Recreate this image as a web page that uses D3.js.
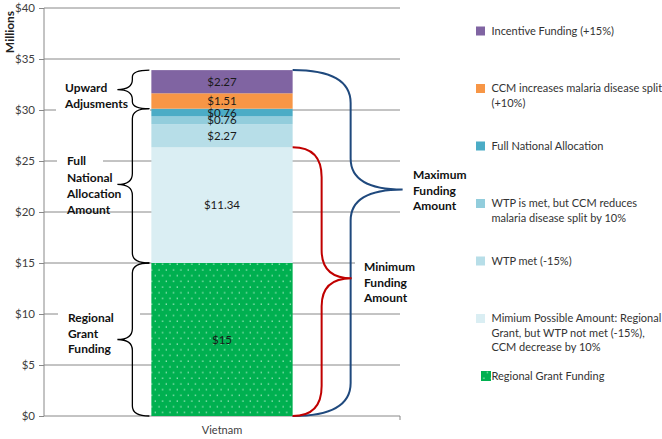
<!DOCTYPE html>
<html>
<head>
<meta charset="utf-8">
<script src="https://cdn.jsdelivr.net/npm/d3@7"></script>
<style>
  html, body { margin: 0; padding: 0; background: #fff; }
  svg { display: block; font-family: Lato, "Open Sans", sans-serif; }
</style>
</head>
<body>
<svg id="chart" width="662" height="439"></svg>
<script>
// ---------------- DATA ----------------
const categories = ["Vietnam"];
const segmentNames = [
  "Regional Grant Funding",
  "Mimium Possible Amount: Regional Grant, but WTP not met (-15%), CCM decrease by 10%",
  "WTP met (-15%)",
  "WTP is met, but CCM reduces malaria disease split by 10%",
  "Full National Allocation",
  "CCM increases malaria disease split (+10%)",
  "Incentive Funding (+15%)"
];
const segmentValues = [15, 11.34, 2.27, 0.76, 0.76, 1.51, 2.27];
const valueLabels = ["$15", "$11.34", "$2.27", "$0.76", "$0.76", "$1.51", "$2.27"];
const legendLines = [
  ["Regional Grant Funding"],
  ["Mimium Possible Amount: Regional", "Grant, but WTP not met (-15%),", "CCM decrease by 10%"],
  ["WTP met (-15%)"],
  ["WTP is met, but CCM reduces", "malaria disease split by 10%"],
  ["Full National Allocation"],
  ["CCM increases malaria disease split", "(+10%)"],
  ["Incentive Funding (+15%)"]
];
const yTickValues = [0, 5, 10, 15, 20, 25, 30, 35, 40];
const yTickLabels = ["$0", "$5", "$10", "$15", "$20", "$25", "$30", "$35", "$40"];
const yTitle = "Millions";
// brace annotations: value range [from, to] and tip value
const leftBraceFrom = [30.13, 15, 0];
const leftBraceTo = [33.91, 30.13, 15];
const leftBraceTip = [32.0, 22.7, 7.5];
const leftBraceText = [["Upward", "Adjusments"], ["Full", "National", "Allocation", "Amount"], ["Regional", "Grant", "Funding"]];
const rightBraceFrom = [0, 0];
const rightBraceTo = [33.91, 26.34];
const rightBraceTip = [22.2, 13.5];
const rightBraceText = [["Maximum", "Funding", "Amount"], ["Minimum", "Funding", "Amount"]];

// ---------------- STYLES ----------------
const segColors = ["#00B050", "#DAEEF3", "#B7DEE8", "#92CDDC", "#4BACC6", "#F79646", "#8064A2"];
const gridColor = "#888888";
const textColor = "#404040";

// ---------------- SETUP ----------------
const svg = d3.select("#chart");
const y = d3.scaleLinear().domain([0, 40]).range([416, 8]);
const x = d3.scaleBand().domain(categories).range([44, 400]).paddingInner(0).paddingOuter(0.76);
const color = d3.scaleOrdinal().domain(segmentNames).range(segColors);

// pattern for regional grant
const defs = svg.append("defs");
const pat = defs.append("pattern").attr("id", "dots").attr("patternUnits", "userSpaceOnUse")
  .attr("width", 7.3).attr("height", 11.4);
pat.append("rect").attr("width", 7.3).attr("height", 11.4).attr("fill", segColors[0]);
pat.append("rect").attr("x", 1.5).attr("y", 1.5).attr("width", 1.1).attr("height", 1.1).attr("fill", "#e8fff0");
pat.append("rect").attr("x", 5.15).attr("y", 7.2).attr("width", 1.1).attr("height", 1.1).attr("fill", "#e8fff0");

// stacked data
let acc = 0;
const stacked = segmentValues.map((v, i) => {
  const d = { name: segmentNames[i], label: valueLabels[i], y0: acc, y1: acc + v, i };
  acc += v; return d;
});

// ---------------- GRID + AXES ----------------
const yAxis = d3.axisLeft(y).tickValues(yTickValues).tickFormat((d, i) => yTickLabels[i]).tickSize(5).tickPadding(4);
const gy = svg.append("g").attr("transform", "translate(44,0)").call(yAxis);
gy.select(".domain").attr("stroke", gridColor).attr("d", `M0,${y(40)}V${y(0)}`);
gy.selectAll(".tick line").attr("stroke", gridColor);
gy.selectAll(".tick text").attr("fill", textColor).style("font-size", "11.5px").style("font-family", "Lato");

svg.append("g").selectAll("line").data(yTickValues.filter(v => v > 0)).join("line")
  .attr("x1", 44).attr("x2", 400).attr("y1", d => y(d)).attr("y2", d => y(d))
  .attr("stroke", gridColor).attr("stroke-width", 1);

// bottom axis
svg.append("line").attr("x1", 44).attr("x2", 400).attr("y1", y(0)).attr("y2", y(0)).attr("stroke", gridColor);
svg.append("line").attr("x1", 400).attr("x2", 400).attr("y1", y(0)).attr("y2", y(0) + 4).attr("stroke", gridColor);
const xAxis = d3.axisBottom(x).tickSize(0).tickPadding(10);
const gx = svg.append("g").attr("transform", `translate(0,${y(0)})`).call(xAxis);
gx.select(".domain").remove();
gx.selectAll(".tick text").attr("fill", textColor).style("font-size", "11px").style("font-family", "Lato");

// y title
svg.append("text").attr("transform", `translate(14,${32}) rotate(-90)`).attr("text-anchor", "middle")
  .attr("fill", "#222").style("font-size", "12px").style("font-weight", "bold").text(yTitle);

// white boxes behind text annotations
const boxes = [[56, 80, 94, 32], [57, 152, 46, 18], [58, 306, 82, 52], [355, 258, 45, 48]];
svg.append("g").selectAll("rect").data(boxes).join("rect")
  .attr("x", d => d[0]).attr("y", d => d[1]).attr("width", d => d[2]).attr("height", d => d[3]).attr("fill", "#fff");

// ---------------- BARS ----------------
const bx = x(categories[0]), bw = x.bandwidth();
svg.append("g").selectAll("rect").data(stacked).join("rect")
  .attr("x", bx).attr("width", bw)
  .attr("y", d => y(d.y1)).attr("height", d => y(d.y0) - y(d.y1))
  .attr("fill", d => d.i === 0 ? "url(#dots)" : color(d.name));

svg.append("g").selectAll("text").data(stacked).join("text")
  .attr("x", bx + bw / 2).attr("y", d => y((d.y0 + d.y1) / 2)).attr("dy", "0.35em")
  .attr("text-anchor", "middle").attr("fill", "#1a1a1a").style("font-size", "11.5px")
  .text(d => d.label);

// ---------------- BRACES ----------------
function brace(x0, xv, xt, y0, ym, y1, rEnd, rTip) {
  return `M${x0},${y0} Q${xv},${y0} ${xv},${y0 + rEnd} L${xv},${ym - rTip} Q${xv},${ym} ${xt},${ym} ` +
         `Q${xv},${ym} ${xv},${ym + rTip} L${xv},${y1 - rEnd} Q${xv},${y1} ${x0},${y1}`;
}
const leftR = [[7, 10], [10, 11], [10, 11]];
leftBraceFrom.forEach((f, i) => {
  svg.append("path")
    .attr("d", brace(bx - 2, bx - 19, bx - 34, y(leftBraceTo[i]), y(leftBraceTip[i]), y(f), leftR[i][0], leftR[i][1]))
    .attr("fill", "none").attr("stroke", "#000").attr("stroke-width", 1.3);
});
const rightGeom = [[58, 110, 33, 31, "#1F497D"], [29, 59, 30, 28, "#C00000"]];
rightBraceFrom.forEach((f, i) => {
  const g = rightGeom[i];
  svg.append("path")
    .attr("d", brace(bx + bw, bx + bw + g[0], bx + bw + g[1], y(rightBraceTo[i]), y(rightBraceTip[i]), y(f), g[2], g[3]))
    .attr("fill", "none").attr("stroke", g[4]).attr("stroke-width", 2);
});

// ---------------- ANNOTATION TEXT ----------------
function multiline(xp, y0, lines, lh, opts) {
  const t = svg.append("text").attr("x", xp).attr("y", y0).attr("fill", opts.fill || "#111")
    .style("font-size", opts.size).style("font-weight", opts.weight || "normal");
  lines.forEach((l, j) => t.append("tspan").attr("x", xp).attr("y", y0 + j * lh).attr("dy", "0.35em").text(l));
}
const leftTextPos = [[65, 88], [67, 161], [68, 318]];
leftBraceText.forEach((lines, i) => multiline(leftTextPos[i][0], leftTextPos[i][1], lines, i === 1 ? 16.3 : 15.5, { size: "12px", weight: "bold" }));
const rightTextPos = [[413, 175], [364, 267]];
rightBraceText.forEach((lines, i) => multiline(rightTextPos[i][0], rightTextPos[i][1], lines, 15.5, { size: "12px", weight: "bold" }));

// ---------------- LEGEND ----------------
const legendOrder = d3.range(segmentNames.length).reverse();
legendOrder.forEach((idx, k) => {
  const cy = 31 + k * 57.5;
  if (idx === 0) {
    svg.append("rect").attr("x", 481).attr("y", cy - 5).attr("width", 10).attr("height", 10).attr("fill", "url(#dots)");
  } else {
    svg.append("rect").attr("x", 476).attr("y", cy - 4.5).attr("width", 9).attr("height", 9).attr("fill", color(segmentNames[idx]));
  }
  multiline(491.5, cy, legendLines[idx], 14.5, { size: "11px", fill: "#333" });
});
</script>
</body>
</html>
